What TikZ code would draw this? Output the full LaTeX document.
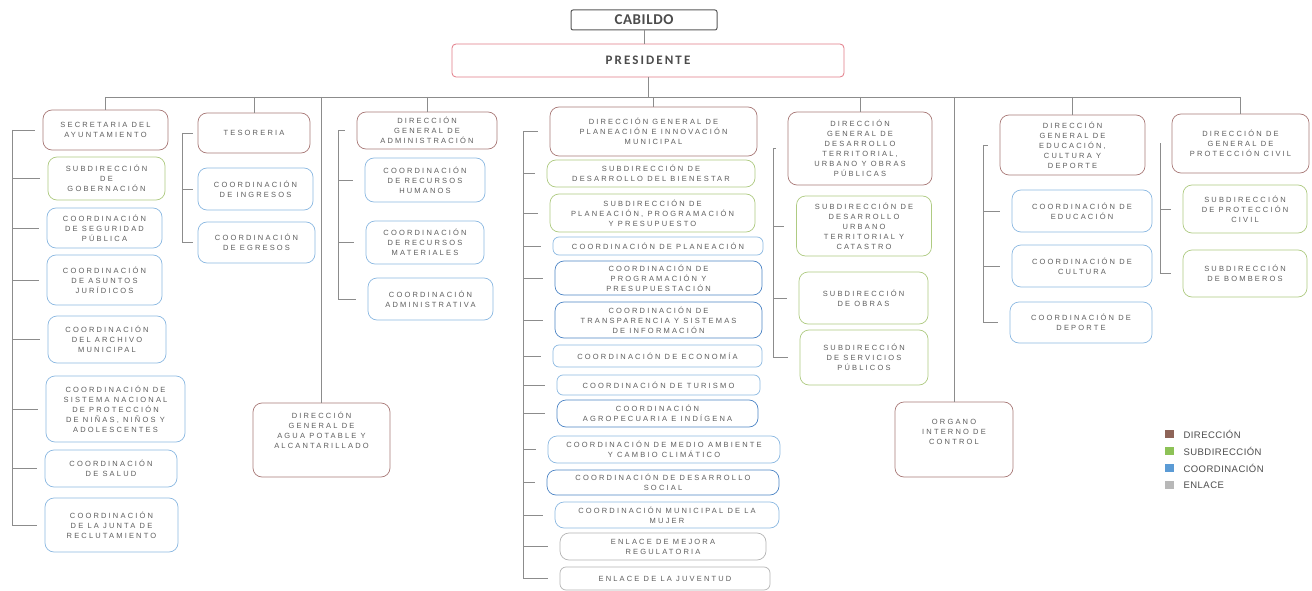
\documentclass[tikz,border=0pt]{standalone}
\usepackage{fontspec}
\setmainfont{Liberation Sans}
\newfontfamily\cajafont[LetterSpace=29]{Liberation Sans}
\newfontfamily\leyfont[LetterSpace=5]{Liberation Sans}
\newfontfamily\titfont[LetterSpace=4]{Carlito}
\newfontfamily\presfont[LetterSpace=16]{Carlito}
\definecolor{dircol}{HTML}{A97A78}
\definecolor{subcol}{HTML}{AFCB82}
\definecolor{coordcol}{HTML}{8CB9E2}
\definecolor{coordosc}{HTML}{4F86C6}
\definecolor{enlcol}{HTML}{B5B5B5}
\definecolor{lincol}{HTML}{8C8C8C}
\definecolor{txtcol}{HTML}{5E5E5E}
\definecolor{presicol}{HTML}{E27A86}
\definecolor{leydir}{HTML}{8E6458}
\definecolor{leysub}{HTML}{8DC257}
\definecolor{leycoord}{HTML}{5B9BD5}
\definecolor{leyenl}{HTML}{B8B8B8}
\begin{document}
\begin{tikzpicture}[x=1pt, y=-1pt,
  caja/.style={rounded corners=9pt, align=center, line width=.7pt, inner sep=1pt,
    text=txtcol, font=\cajafont\fontsize{7.5}{10}\selectfont},
  dir/.style={caja, draw=dircol},
  sub/.style={caja, draw=subcol},
  coord/.style={caja, draw=coordcol},
  coordf/.style={caja, draw=coordosc},
  enl/.style={caja, draw=enlcol},
  tam/.style 2 args={minimum width=#1, minimum height=#2},
  lin/.style={draw=lincol, line width=.6pt},
  ley/.style={right, text=black!70, font=\leyfont\fontsize{9.5}{11}\selectfont}]
\useasboundingbox (0,0) rectangle (1312,591);
\fill[white] (0,0) rectangle (1312,591);

\node[draw=black!65, line width=1pt, rounded corners=2pt, tam={146}{20}, text=black!70, font=\titfont\fontsize{15}{16}\selectfont\bfseries] (cabildo) at (644,20) {CABILDO};
\node[draw=presicol, line width=.8pt, rounded corners=4pt, tam={392}{33}, text=black!70, font=\presfont\fontsize{13}{14}\selectfont\bfseries] (presi) at (648,60.5) {PRESIDENTE};

\node[dir, tam={125}{40}] (secre) at (105.5,130) {SECRETARIA DEL\\AYUNTAMIENTO};
\node[sub, tam={117}{43}] (gob) at (106.5,178.5) {SUBDIRECCIÓN\\DE\\GOBERNACIÓN};
\node[coord, tam={115}{40}] (segp) at (104.5,228) {COORDINACIÓN\\DE SEGURIDAD\\PÚBLICA};
\node[coord, tam={115}{50}] (asun) at (104.5,280) {COORDINACIÓN\\DE ASUNTOS\\JURÍDICOS};
\node[coord, tam={118}{47}] (arch) at (107,339.5) {COORDINACIÓN\\DEL ARCHIVO\\MUNICIPAL};
\node[coord, tam={139}{66}] (sipinna) at (115.5,409) {COORDINACIÓN DE\\SISTEMA NACIONAL\\DE PROTECCIÓN\\DE NIÑAS, NIÑOS Y\\ADOLESCENTES};
\node[coord, tam={132}{37}] (salud) at (111,468.5) {COORDINACIÓN\\DE SALUD};
\node[coord, tam={133}{54}] (junta) at (111.5,525) {COORDINACIÓN\\DE LA JUNTA DE\\RECLUTAMIENTO};

\node[dir, tam={112}{40}] (tes) at (254,133) {TESORERIA};
\node[coord, tam={115}{42}] (ingr) at (255.5,189) {COORDINACIÓN\\DE INGRESOS};
\node[coord, tam={117}{41}] (egr) at (256.5,242.5) {COORDINACIÓN\\DE EGRESOS};

\node[dir, tam={137}{74}, text depth=20pt] (agua) at (321.5,440) {DIRECCIÓN\\GENERAL DE\\AGUA POTABLE Y\\ALCANTARILLADO};

\node[dir, tam={140}{37}] (adm) at (427,130.5) {DIRECCIÓN\\GENERAL DE\\ADMINISTRACIÓN};
\node[coord, tam={120}{44}] (rh) at (425,180) {COORDINACIÓN\\DE RECURSOS\\HUMANOS};
\node[coord, tam={118}{43}] (rm) at (425,242.5) {COORDINACIÓN\\DE RECURSOS\\MATERIALES};
\node[coord, tam={125}{42}] (cadm) at (430.5,299) {COORDINACIÓN\\ADMINISTRATIVA};

\node[dir, tam={207}{49}] (dplan) at (653.5,131.5) {DIRECCIÓN GENERAL DE\\PLANEACIÓN E INNOVACIÓN\\MUNICIPAL};
\node[sub, tam={208}{27}] (sbien) at (651,173.5) {SUBDIRECCIÓN DE\\DESARROLLO DEL BIENESTAR};
\node[sub, tam={205}{38}] (sppp) at (652.5,213) {SUBDIRECCIÓN DE\\PLANEACIÓN, PROGRAMACIÓN\\Y PRESUPUESTO};
\node[coord, tam={210}{18}, rounded corners=6pt] (cplan) at (658,246) {COORDINACIÓN DE PLANEACIÓN};
\node[coordf, tam={207}{34}] (cprog) at (658.5,278) {COORDINACIÓN DE\\PROGRAMACIÓN Y\\PRESUPUESTACIÓN};
\node[coordf, tam={207}{36}] (ctrans) at (658.5,320) {COORDINACIÓN DE\\TRANSPARENCIA Y SISTEMAS\\DE INFORMACIÓN};
\node[coord, tam={209}{22}, rounded corners=6pt] (ceco) at (657.5,356) {COORDINACIÓN DE ECONOMÍA};
\node[coord, tam={203}{20}, rounded corners=6pt] (ctur) at (658.5,385) {COORDINACIÓN DE TURISMO};
\node[coordf, tam={201}{27}] (cagro) at (657.5,413.5) {COORDINACIÓN\\AGROPECUARIA E INDÍGENA};
\node[coord, tam={232}{27}] (cmed) at (664,449.5) {COORDINACIÓN DE MEDIO AMBIENTE\\Y CAMBIO CLIMÁTICO};
\node[coordf, tam={232}{25}] (csoc) at (663,482.5) {COORDINACIÓN DE DESARROLLO\\SOCIAL};
\node[coord, tam={224}{26}] (cmuj) at (667,515) {COORDINACIÓN MUNICIPAL DE LA\\MUJER};
\node[enl, tam={206}{27}] (emej) at (663,546.5) {ENLACE DE MEJORA\\REGULATORIA};
\node[enl, tam={210}{23}, rounded corners=6pt] (ejuv) at (665,578.5) {ENLACE DE LA JUVENTUD};

\node[dir, tam={144}{73}] (ddes) at (860,148.5) {DIRECCIÓN\\GENERAL DE\\DESARROLLO\\TERRITORIAL,\\URBANO Y OBRAS\\PÚBLICAS};
\node[sub, tam={135}{60}] (sdu) at (864,226) {SUBDIRECCIÓN DE\\DESARROLLO\\URBANO\\TERRITORIAL Y\\CATASTRO};
\node[sub, tam={129}{52}] (sobr) at (863.5,298) {SUBDIRECCIÓN\\DE OBRAS};
\node[sub, tam={128}{55}] (sserv) at (864,357.5) {SUBDIRECCIÓN\\DE SERVICIOS\\PÚBLICOS};

\node[dir, tam={118}{75}, text depth=15pt] (organo) at (954,439.5) {ORGANO\\INTERNO DE\\CONTROL};

\node[dir, tam={145}{60}] (dedu) at (1072.5,145) {DIRECCIÓN\\GENERAL DE\\EDUCACIÓN,\\CULTURA Y\\DEPORTE};
\node[coord, tam={140}{42}] (cedu) at (1082,211) {COORDINACIÓN DE\\EDUCACIÓN};
\node[coord, tam={140}{42}] (ccul) at (1082,266) {COORDINACIÓN DE\\CULTURA};
\node[coord, tam={142}{41}] (cdep) at (1081,322.5) {COORDINACIÓN DE\\DEPORTE};

\node[dir, tam={137}{59}] (dpc) at (1240.5,143.5) {DIRECCIÓN DE\\GENERAL DE\\PROTECCIÓN CIVIL};
\node[sub, tam={124}{48}] (spc) at (1245,209) {SUBDIRECCIÓN\\DE PROTECCIÓN\\CIVIL};
\node[sub, tam={124}{47}] (sbom) at (1245,273.5) {SUBDIRECCIÓN\\DE BOMBEROS};

\draw[lin] (cabildo.south) -- (cabildo.south |- presi.north);
\coordinate (bus) at (0,97);
\draw[lin] (presi.south) -- (presi.south |- bus);
\draw[lin] (secre.north |- bus) -- (dpc.north |- bus);
\foreach \n in {secre,tes,agua,adm,dplan,ddes,organo,dedu,dpc}
  \draw[lin] (\n.north |- bus) -- (\n.north);

\coordinate (tS) at (12,0);
\draw[lin] (tS |- secre) -- (tS |- junta);
\foreach \n in {secre,gob,segp,asun,arch,sipinna,salud,junta}
  \draw[lin, shorten >=8pt] (tS |- \n) -- (\n.west);
\coordinate (tT) at (182,0);
\draw[lin] (tT |- tes) -- (tT |- egr);
\foreach \n in {tes,ingr,egr}
  \draw[lin, shorten >=5pt] (tT |- \n) -- (\n.west);
\coordinate (tA) at (338,0);
\draw[lin] (tA |- adm) -- (tA |- cadm);
\foreach \n in {adm,rh,rm,cadm}
  \draw[lin, shorten >=12pt] (tA |- \n) -- (\n.west);
\coordinate (tP) at (523,0);
\draw[lin] (tP |- dplan) -- (tP |- ejuv);
\foreach \n in {dplan,sbien,sppp,cplan,cprog,ctrans,ceco,ctur,cagro,cmed,csoc,cmuj,emej,ejuv}
  \draw[lin, shorten >=12pt] (tP |- \n) -- (\n.west);
\coordinate (tD) at (773,0);
\draw[lin] (tD |- ddes) -- (tD |- sserv);
\foreach \n in {ddes,sdu,sobr,sserv}
  \draw[lin, shorten >=12pt] (tD |- \n) -- (\n.west);
\coordinate (tE) at (983,0);
\draw[lin] (tE |- dedu) -- (tE |- cdep);
\foreach \n in {dedu,cedu,ccul,cdep}
  \draw[lin, shorten >=12pt] (tE |- \n) -- (\n.west);
\coordinate (tC) at (1160,0);
\draw[lin] (tC |- dpc) -- (tC |- sbom);
\foreach \n in {dpc,spc,sbom}
  \draw[lin, shorten >=12pt] (tC |- \n) -- (\n.west);

\fill[leydir] (1165,430) rectangle (1174,438);
\node[ley] (ldir) at (1180,434) {DIRECCIÓN};
\fill[leysub] (1165,447) rectangle (1174,455);
\node[ley] (lsub) at (1180,451) {SUBDIRECCIÓN};
\fill[leycoord] (1165,464) rectangle (1174,472);
\node[ley] (lcoord) at (1180,468) {COORDINACIÓN};
\fill[leyenl] (1165,481) rectangle (1174,489);
\node[ley] (lenl) at (1180,485) {ENLACE};
\end{tikzpicture}
\end{document}
